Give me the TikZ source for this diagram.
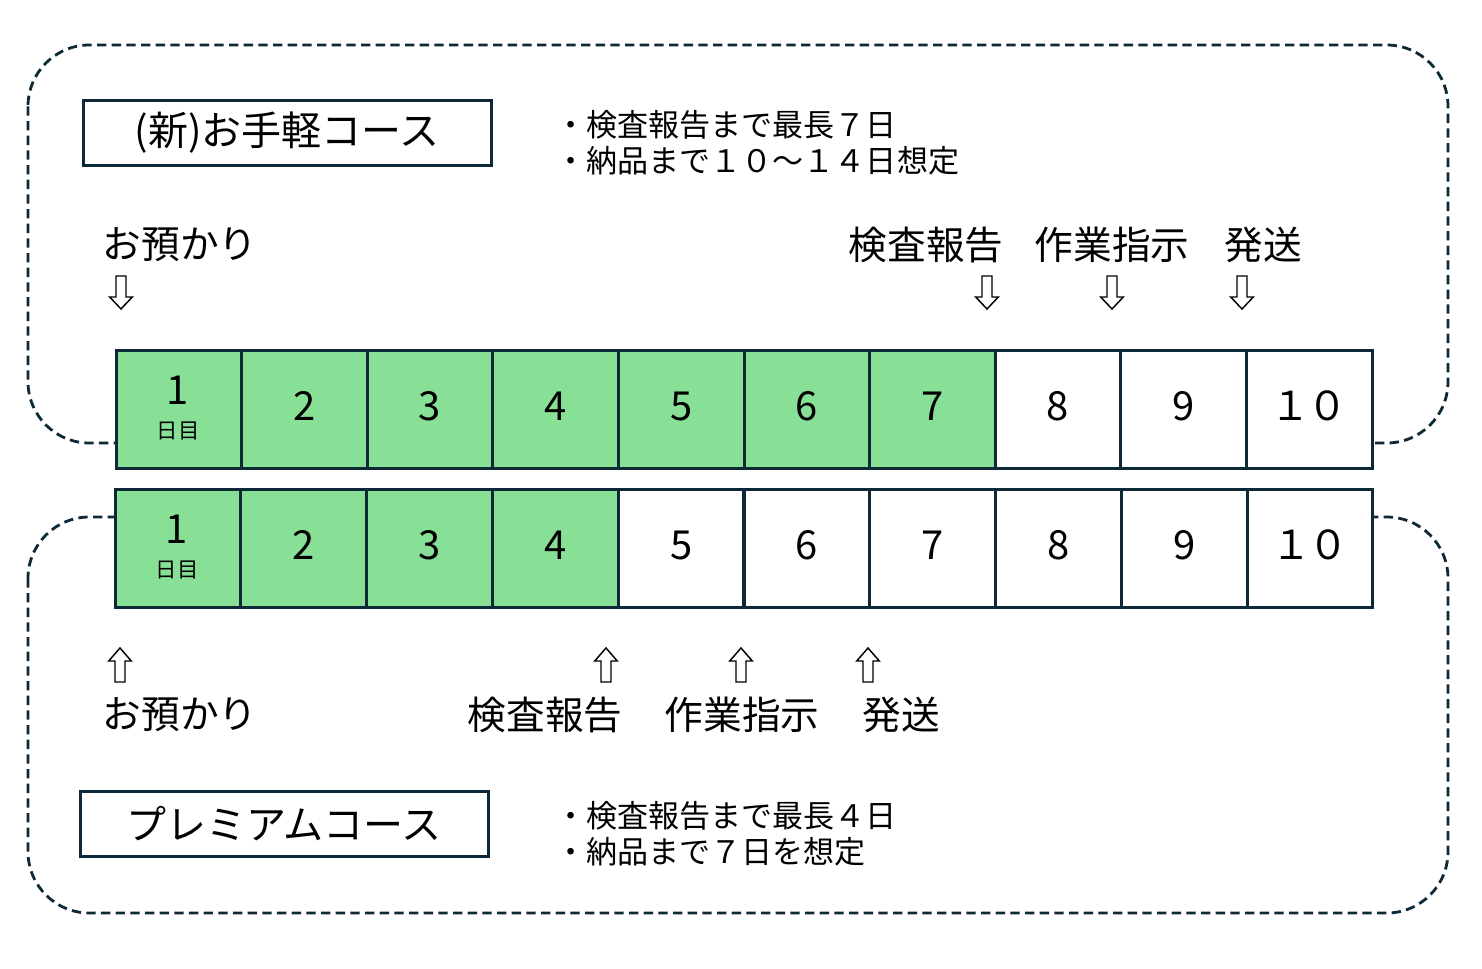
\documentclass[tikz,border=0pt]{standalone}
\usepackage{fontspec}
\setmainfont{Noto Sans CJK JP}
\definecolor{ink}{RGB}{13,40,54}
\definecolor{cellgreen}{RGB}{136,224,150}
\tikzset{
  cell/.style={draw=ink, line width=2.25pt, minimum width=94.2pt, minimum height=88.5pt, inner sep=0pt, text height=17.5pt, text depth=0pt, font=\fontsize{30}{30}\selectfont, fill=white},
  done/.style={cell, fill=cellgreen},
  region/.style={draw=ink, line width=2.1pt, dash pattern=on 7pt off 4pt, rounded corners=46pt},
  titlebox/.style={draw=ink, line width=2.25pt, minimum width=306pt, minimum height=48.75pt, inner sep=0pt, font=\fontsize{30}{30}\selectfont},
  note/.style={anchor=west, inner sep=0pt, align=left, font=\fontsize{23.3}{27}\selectfont},
  lbl/.style={inner sep=0pt, font=\fontsize{29}{29}\selectfont},
  daysub/.style={inner sep=0pt, font=\fontsize{16}{16}\selectfont},
  downarr/.pic={\draw[line width=1.1pt, fill=white] (-5,-16.5) -- (5,-16.5) -- (5,4.5) -- (11.3,4.5) -- (0,16.5) -- (-11.3,4.5) -- (-5,4.5) -- cycle;},
  uparr/.pic={\draw[line width=1.1pt, fill=white] (-5,17) -- (5,17) -- (5,-4) -- (11.3,-4) -- (0,-17) -- (-11.3,-4) -- (-5,-4) -- cycle;},
}
\begin{document}
\begin{tikzpicture}[x=0.75pt,y=-0.75pt]
\useasboundingbox (0,0) rectangle (1482,968);
% dashed regions
\draw[region] (28,45) rectangle (1448,443);
\draw[region] (28,517) rectangle (1448,913);
% titles
\node[titlebox] (title1) at (287,132.5) {(新)お手軽コース};
\node[titlebox] (title2) at (284,823.5) {プレミアムコース};
% notes
\node[note] (note1) at (555,143) {・検査報告まで最長７日\\・納品まで１０～１４日想定};
\node[note] (note2) at (555,833.5) {・検査報告まで最長４日\\・納品まで７日を想定};
% top row
\foreach \i/\t in {1/{},2/2,3/3,4/4,5/5,6/6,7/7,8/8,9/9,10/{１\kern-2.2pt０}} {
  \ifnum\i<8 \def\st{done}\else\def\st{cell}\fi
  \node[\st] (t\i) at ({116+62.8+125.6*(\i-1)},409) {\t};
}
\foreach \i/\t in {1/{},2/2,3/3,4/4,5/5,6/6,7/7,8/8,9/9,10/{１\kern-2.2pt０}} {
  \ifnum\i<5 \def\st{done}\else\def\st{cell}\fi
  \node[\st] (b\i) at ({115+62.9+125.8*(\i-1)},548) {\t};
}
\node[inner sep=0pt, font=\fontsize{30}{30}\selectfont] (t1n) at (178,390) {1};
\node[daysub] (t1d) at (178,431) {日目};
\node[inner sep=0pt, font=\fontsize{30}{30}\selectfont] (b1n) at (177,529) {1};
\node[daysub] (b1d) at (177,570) {日目};
% top labels
\node[lbl] (ta) at (180,245) {お預かり};
\node[lbl] (tk) at (926,245) {検査報告};
\node[lbl] (ts) at (1112,245) {作業指示};
\node[lbl] (th) at (1263,245) {発送};
\pic at (121,292.5) {downarr};
\pic at (987,292.5) {downarr};
\pic at (1112,292.5) {downarr};
\pic at (1242,292.5) {downarr};
% bottom labels
\node[lbl] (ba) at (180,715) {お預かり};
\node[lbl] (bk) at (545,715) {検査報告};
\node[lbl] (bs) at (742,715) {作業指示};
\node[lbl] (bh) at (901,715) {発送};
\pic at (120,665) {uparr};
\pic at (606,665) {uparr};
\pic at (741,665) {uparr};
\pic at (868,665) {uparr};
\end{tikzpicture}
\end{document}
